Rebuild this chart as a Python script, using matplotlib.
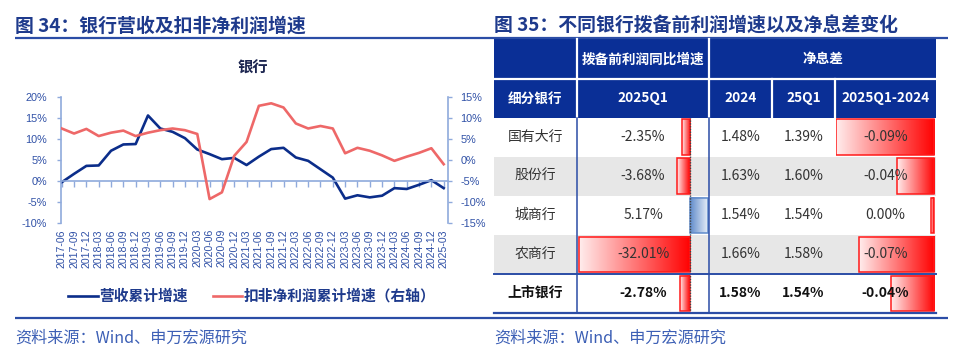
import matplotlib
matplotlib.use('Agg')
import matplotlib.pyplot as plt
import numpy as np
from matplotlib import transforms
from matplotlib.patches import Rectangle
from matplotlib.colors import LinearSegmentedColormap

plt.rcParams['font.family'] = ['Noto Sans CJK SC', 'DejaVu Sans']

# ---------------- data ----------------
quarters = ['2017-06', '2017-09', '2017-12', '2018-03', '2018-06', '2018-09', '2018-12',
            '2019-03', '2019-06', '2019-09', '2019-12', '2020-03', '2020-06', '2020-09',
            '2020-12', '2021-03', '2021-06', '2021-09', '2021-12', '2022-03', '2022-06',
            '2022-09', '2022-12', '2023-03', '2023-06', '2023-09', '2023-12', '2024-03',
            '2024-06', '2024-09', '2024-12', '2025-03']
revenue_growth = [-0.3, 1.7, 3.6, 3.7, 7.2, 8.7, 8.8, 15.6, 12.5, 11.7, 10.2, 7.5, 6.4, 5.2,
                  5.5, 3.8, 5.8, 7.6, 7.9, 5.6, 4.8, 2.8, 0.8, -4.2, -3.4, -3.9, -3.5, -1.7,
                  -1.9, -0.9, 0.2, -1.7]
profit_growth = [7.5, 6.3, 7.4, 5.7, 6.5, 7.0, 5.7, 6.5, 7.1, 7.5, 7.1, 6.2, -9.3, -7.7,
                 1.0, 4.3, 12.9, 13.5, 12.5, 8.7, 7.5, 8.1, 7.5, 1.6, 2.9, 2.2, 1.1, -0.2,
                 0.8, 1.7, 2.8, -1.0]
left_ticks = [-10, -5, 0, 5, 10, 15, 20]
right_ticks = [-15, -10, -5, 0, 5, 10, 15]
series_names = ['营收累计增速', '扣非净利润累计增速（右轴）']

banks = ['国有大行', '股份行', '城商行', '农商行', '上市银行']
ppop_growth = [-2.35, -3.68, 5.17, -32.01, -2.78]
nim_2024 = [1.48, 1.63, 1.54, 1.66, 1.58]
nim_25q1 = [1.39, 1.60, 1.54, 1.58, 1.54]
nim_change = [-0.09, -0.04, 0.00, -0.07, -0.04]          # displayed values
nim_change_bar = [-0.090, -0.034, 0.000, -0.069, -0.040]  # unrounded (bar lengths)
header_top = ['拨备前利润同比增速', '净息差']
header_sub = ['细分银行', '2025Q1', '2024', '25Q1', '2025Q1-2024']

title_left = '图 34：银行营收及扣非净利润增速'
title_right = '图 35：不同银行拨备前利润增速以及净息差变化'
chart_title = '银行'
source = '资料来源：Wind、申万宏源研究'

# ---------------- style ----------------
W, H = 960, 356
NAVY = '#0A2F96'
TITLE_C = '#1E3A8C'
RULE_C = '#2B4DA6'
AX_C = '#8FAADC'
TICK_C = '#2F50A6'
BLUE_LINE = '#0B2D8A'
RED_LINE = '#EE6868'
SRC_C = '#3C5FB5'
GRAY_ROW = '#E7E7E7'

fig = plt.figure(figsize=(W / 100, H / 100), dpi=100)


def fx(px):
    return px / W


def fy(py):
    return 1 - py / H


def px_axes(left, top, right, bottom, **kw):
    return fig.add_axes([fx(left), fy(bottom), fx(right - left), (bottom - top) / H], **kw)


bg = fig.add_axes([0, 0, 1, 1])
bg.set_xlim(0, W)
bg.set_ylim(H, 0)
bg.axis('off')

# titles and rules
bg.text(15, 26, title_left, fontsize=13.6, fontweight='bold', color=TITLE_C, va='center', ha='left')
bg.text(494, 26, title_right, fontsize=13.6, fontweight='bold', color=TITLE_C, va='center', ha='left')
bg.plot([15, 948], [38.3, 38.3], color=RULE_C, lw=1.6, solid_capstyle='butt')
bg.plot([15, 948], [317.6, 317.6], color=RULE_C, lw=1.6, solid_capstyle='butt')
bg.text(15, 338, source, fontsize=11.6, color=SRC_C, va='center', ha='left')
bg.text(494, 338, source, fontsize=11.6, color=SRC_C, va='center', ha='left')

# ---------------- left chart ----------------
bg.text(253, 68, chart_title, fontsize=11, fontweight='bold', color='#1C2550', ha='center', va='center')

ax = px_axes(61, 97, 448, 223)
ax.patch.set_alpha(0)
x = np.arange(len(quarters))
l1, = ax.plot(x, revenue_growth, color=BLUE_LINE, lw=1.9, label=series_names[0])
ax.set_xlim(-0.06, len(quarters) - 1 + 0.35)
ax.set_ylim(left_ticks[0], left_ticks[-1])
ax.set_yticks(left_ticks)
ax.set_yticklabels([f'{v}%' for v in left_ticks], fontfamily='Liberation Sans')
ax.set_xticks(x)
ax.tick_params(axis='x', length=4, width=1, color=AX_C, labelbottom=False)
ax.tick_params(axis='y', length=3, width=1, color=AX_C, labelcolor=TICK_C, labelsize=7.8, pad=7)
for s in ['top', 'right']:
    ax.spines[s].set_visible(False)
ax.spines['bottom'].set_position(('data', 0))
ax.spines['bottom'].set_color(AX_C)
ax.spines['left'].set_color(AX_C)
ax.spines['bottom'].set_linewidth(1.2)
ax.spines['left'].set_linewidth(1.2)

lab_tr = transforms.offset_copy(ax.get_xaxis_transform(), fig=fig, x=0, y=-6, units='dots')
for i, q in enumerate(quarters):
    ax.text(i, 0, q, rotation=90, ha='center', va='top', fontsize=7.6, color=TICK_C,
            fontfamily='Liberation Sans', transform=lab_tr)

ax2 = ax.twinx()
l2, = ax2.plot(x, profit_growth, color=RED_LINE, lw=1.9, label=series_names[1])
ax2.set_ylim(right_ticks[0], right_ticks[-1])
ax2.set_yticks(right_ticks)
ax2.set_yticklabels([f'{v}%' for v in right_ticks], fontfamily='Liberation Sans')
ax2.tick_params(axis='y', length=3, width=1, color=AX_C, labelcolor=TICK_C, labelsize=7.8, pad=6)
for s in ['top', 'left', 'bottom']:
    ax2.spines[s].set_visible(False)
ax2.spines['right'].set_color(AX_C)
ax2.spines['right'].set_linewidth(1.2)

leg = fig.legend(handles=[l1, l2], loc='center', bbox_to_anchor=(fx(252), fy(296)), ncol=2,
                 frameon=False, handlelength=2.0, handletextpad=0.1, columnspacing=1.7,
                 prop={'family': ['Noto Sans CJK SC', 'DejaVu Sans'], 'weight': 'bold', 'size': 10.6})
for t in leg.get_texts():
    t.set_color(TITLE_C)

# ---------------- right table ----------------
col_x = [494, 576.7, 709.3, 771.7, 835, 935.7]
hdr_top, hdr_mid, hdr_bot = 39.3, 79.2, 117.5
row_h = 39.04
n_rows = len(banks)
body_bot = hdr_bot + row_h * n_rows

bg.add_patch(Rectangle((col_x[0], hdr_top), col_x[-1] - col_x[0], hdr_bot - hdr_top, color=NAVY, lw=0))
bg.plot([col_x[0], col_x[-1]], [hdr_mid, hdr_mid], color='white', lw=1.6)
for cx in (col_x[1], col_x[2]):
    bg.plot([cx, cx], [hdr_top, hdr_bot], color='white', lw=1.6)
for cx in (col_x[3], col_x[4]):
    bg.plot([cx, cx], [hdr_mid, hdr_bot], color='white', lw=1.6)

for i in range(n_rows):
    if i % 2 == 1:
        bg.add_patch(Rectangle((col_x[0], hdr_bot + i * row_h), col_x[-1] - col_x[0], row_h,
                               color=GRAY_ROW, lw=0))

# data-bar axes
red_cmap = LinearSegmentedColormap.from_list('r', ['#FFEDED', '#FF0000'])
blue_cmap = LinearSegmentedColormap.from_list('b', ['#5F8BCB', '#E6EDF7'])
grad = np.linspace(0, 1, 256).reshape(1, -1)
bar_h = 0.9


def data_bars(left, right, zero_px, px_per_unit, values, min_len_px=0):
    bax = px_axes(left, hdr_bot, right, body_bot)
    bax.patch.set_alpha(0)
    bax.axis('off')
    xl = ((left - zero_px) / px_per_unit, (right - zero_px) / px_per_unit)
    for i, v in enumerate(values):
        length = max(abs(v), min_len_px / px_per_unit)
        if v < 0 or (v == 0 and min_len_px > 0):
            x0, x1, cmap, ec = -length, 0, red_cmap, '#FF1A1A'
        else:
            x0, x1, cmap, ec = 0, length, blue_cmap, '#5F8BCB'
        bax.imshow(grad, cmap=cmap, extent=(x0, x1, i + bar_h / 2, i - bar_h / 2),
                   aspect='auto', interpolation='bilinear', zorder=2)
        bax.add_patch(Rectangle((x0, i - bar_h / 2), x1 - x0, bar_h, fill=False, ec=ec, lw=1.1, zorder=3))
    bax.set_xlim(*xl)
    bax.set_ylim(n_rows - 0.5, -0.5)
    return bax


bax1 = data_bars(577.5, 709, 690, 3.47, ppop_growth)
bax1.axvline(0, color='#444444', lw=1.0, ls=(0, (1, 1)), zorder=4)
bax2 = data_bars(835.5, 935.7, 934.3, 1089, nim_change_bar, min_len_px=3)

# grid lines
bg2 = fig.add_axes([0, 0, 1, 1])
bg2.set_xlim(0, W)
bg2.set_ylim(H, 0)
bg2.axis('off')
bg2.patch.set_alpha(0)
for cx in (col_x[1], col_x[2]):
    bg2.plot([cx, cx], [hdr_bot, body_bot], color=RULE_C, lw=1.1)
bg2.plot([col_x[0], col_x[-1]], [hdr_bot + row_h * (n_rows - 1)] * 2, color=RULE_C, lw=1.4)
bg2.plot([col_x[0], col_x[-1]], [body_bot, body_bot], color=RULE_C, lw=1.6)

# header text
hdr_kw = dict(color='white', fontweight='bold', fontsize=9.8, ha='center', va='center')
bg2.text((col_x[1] + col_x[2]) / 2, (hdr_top + hdr_mid) / 2, header_top[0], **hdr_kw)
bg2.text((col_x[2] + col_x[5]) / 2, (hdr_top + hdr_mid) / 2, header_top[1], **hdr_kw)
for j, h in enumerate(header_sub):
    bg2.text((col_x[j] + col_x[j + 1]) / 2, (hdr_mid + hdr_bot) / 2, h, **hdr_kw)

# body text
for i in range(n_rows):
    yc = hdr_bot + row_h * (i + 0.5)
    bold = (i == n_rows - 1)
    kw = dict(ha='center', va='center', fontsize=10,
              color='#111111' if bold else '#333333', fontweight='bold' if bold else 'normal')
    vals = [banks[i], f'{ppop_growth[i]:.2f}%', f'{nim_2024[i]:.2f}%', f'{nim_25q1[i]:.2f}%',
            f'{nim_change[i]:.2f}%']
    for j, s in enumerate(vals):
        bg2.text((col_x[j] + col_x[j + 1]) / 2, yc, s, **kw)

fig.savefig('out.png', dpi=100)
